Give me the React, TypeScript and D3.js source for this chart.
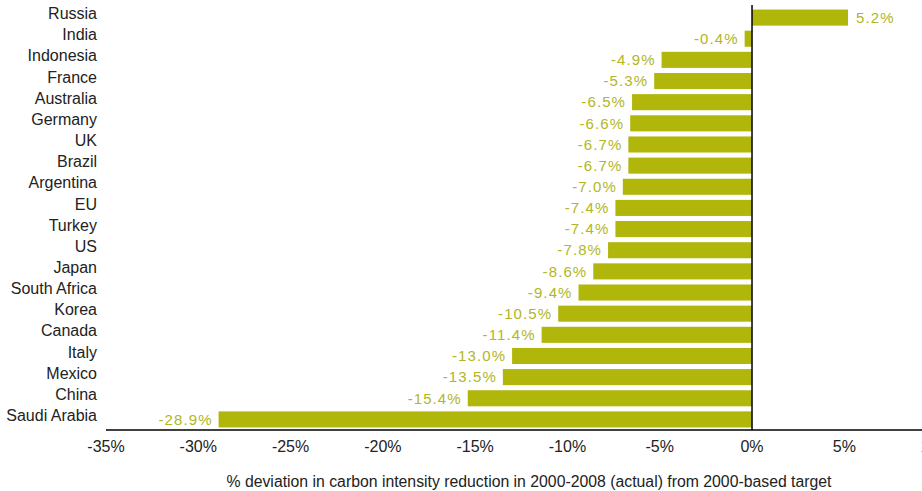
import * as d3 from "d3";

// categories top to bottom
const countries = [
  "Russia", "India", "Indonesia", "France", "Australia", "Germany", "UK", "Brazil",
  "Argentina", "EU", "Turkey", "US", "Japan", "South Africa", "Korea", "Canada",
  "Italy", "Mexico", "China", "Saudi Arabia",
];
// % deviation
const deviation = [
  5.2, -0.4, -4.9, -5.3, -6.5, -6.6, -6.7, -6.7,
  -7.0, -7.4, -7.4, -7.8, -8.6, -9.4, -10.5, -11.4,
  -13.0, -13.5, -15.4, -28.9,
];
const tickValues = [-35, -30, -25, -20, -15, -10, -5, 0, 5, 10];
const axisTitle = "% deviation in carbon intensity reduction in 2000-2008 (actual) from 2000-based target";

const width = 922;
const height = 491;
const font = "'Liberation Sans', Arial, Helvetica, sans-serif";
const barColor = "#b1b60a";
const labelColor = "#b2b624";

export default function App() {
  const x = d3.scaleLinear().domain([-35, 10]).range([106, 936.6]);
  const y = d3.scaleBand().domain(countries).range([7, 430]).paddingInner(0.24).paddingOuter(0.12);
  const axisY = 430;

  return (
    <svg
      width={width}
      height={height}
      style={{ position: "fixed", left: 0, top: 0, background: "#fff" }}
      fontFamily={font}
    >
      {/* bars */}
      {countries.map((c, i) => {
        const v = deviation[i];
        const x0 = x(Math.min(0, v));
        const x1 = x(Math.max(0, v));
        return (
          <rect key={c} x={x0} y={y(c)} width={x1 - x0} height={y.bandwidth()} fill={barColor} />
        );
      })}
      {/* value labels */}
      {countries.map((c, i) => {
        const v = deviation[i];
        const yc = (y(c) ?? 0) + y.bandwidth() / 2;
        return (
          <text
            key={c}
            x={v >= 0 ? x(v) + 8 : x(v) - 6}
            y={yc}
            dy="0.35em"
            textAnchor={v >= 0 ? "start" : "end"}
            fontSize={15}
            letterSpacing={1.1}
            fill={labelColor}
          >
            {v.toFixed(1)}%
          </text>
        );
      })}
      {/* category labels */}
      {countries.map((c) => (
        <text
          key={c}
          x={97}
          y={(y(c) ?? 0) + y.bandwidth() / 2 - 4}
          dy="0.35em"
          textAnchor="end"
          fontSize={16}
          fill="#222"
        >
          {c}
        </text>
      ))}
      {/* zero line */}
      <line x1={x(0)} x2={x(0)} y1={5} y2={axisY} stroke="#000" strokeWidth={1.5} />
      {/* x axis */}
      <line x1={x(-35)} x2={width} y1={axisY} y2={axisY} stroke="#000" strokeWidth={1.5} />
      {tickValues.map((t) => (
        <text key={t} x={x(t)} y={axisY + 16} dy="0.35em" textAnchor="middle" fontSize={16} fill="#222">
          {t}%
        </text>
      ))}
      <text x={529} y={481} dy="0.35em" textAnchor="middle" fontSize={15.8} fill="#222">
        {axisTitle}
      </text>
    </svg>
  );
}
